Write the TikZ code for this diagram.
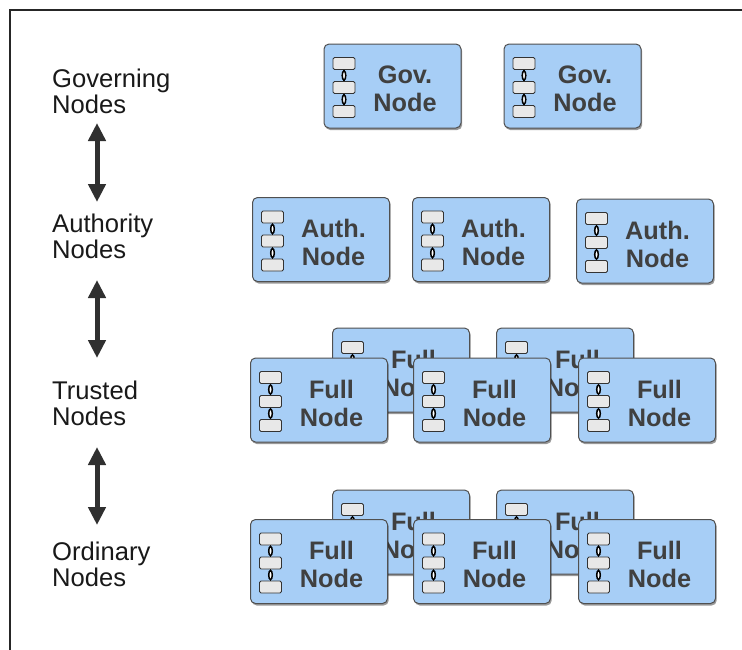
\documentclass[tikz,border=0pt]{standalone}
\usepackage{fontspec}
\setmainfont{Liberation Sans}
\usetikzlibrary{arrows.meta,shadows}
\definecolor{boxblue}{RGB}{167,206,246}
\definecolor{boxedge}{RGB}{80,80,80}
\definecolor{boxtxt}{RGB}{64,64,64}
\definecolor{rectfill}{RGB}{232,232,232}
\definecolor{arrowgray}{RGB}{48,48,48}
\tikzset{
  nodebox/.style={draw=boxedge, line width=1pt, fill=boxblue, rounded corners=5pt,
    minimum width=137pt, minimum height=84pt, inner sep=0pt,
    drop shadow={shadow xshift=1.2pt, shadow yshift=-2pt, opacity=.4, fill=black}},
  boxtext/.style={text=boxtxt, font=\fontsize{25.3}{28}\selectfont\bfseries, align=center, inner sep=0pt},
  tierlabel/.style={text=black!90, font=\fontsize{25.6}{26}\selectfont, align=left, inner sep=0pt, anchor=west},
  updown/.style={arrowgray, line width=5pt, {Triangle[width=17pt,length=18pt]}-{Triangle[width=17pt,length=18pt]}},
  ledgerrect/.style={draw=black!80, line width=0.8pt, fill=rectfill, rounded corners=1.5pt},
  linkring/.style={draw=black, line width=1.5pt, fill=white},
  ledger/.pic={
    \draw[black, line width=1.4pt] (0,-22.5) -- (0,25.5);
    \foreach \yy in {-22.5,1.5,25.5}
      \draw[ledgerrect] (-11,\yy-6) rectangle (11,\yy+6);
    \foreach \yy in {-10.5,13.5}
      \draw[linkring] (0,\yy) ellipse (1.8 and 4.6);
  }
}
\newcommand\ledgerbox[4]{%
  \node[nodebox] (#1) at (#2,#3) {};
  \pic at ([xshift=-48.5pt]#1.center) {ledger};
  \node[boxtext] (#1-t) at ([xshift=12.5pt,yshift=-3pt]#1.center) {#4\\Node};
}
\begin{document}
\begin{tikzpicture}[x=1pt,y=-1pt]
\useasboundingbox (0,0) rectangle (742,649);
% frame
\coordinate (fr-tr) at (750,10);
\coordinate (fr-tl) at (10,10);
\coordinate (fr-bl) at (10,660);
\draw[black!85, line width=1.2pt] (fr-tr) -- (fr-tl) -- (fr-bl);
% tier labels
\node[tierlabel] (lab-gov) at (52,91) {Governing\\Nodes};
\node[tierlabel] (lab-auth) at (52,236.5) {Authority\\Nodes};
\node[tierlabel] (lab-trust) at (52,403) {Trusted\\Nodes};
\node[tierlabel] (lab-ord) at (52,564.5) {Ordinary\\Nodes};
% arrows
\coordinate (a1t) at (97,123);
\coordinate (a1b) at (97,202);
\coordinate (a2t) at (97,280);
\coordinate (a2b) at (97,358);
\coordinate (a3t) at (97,447);
\coordinate (a3b) at (97,525);
\draw[updown] (a1t) -- (a1b);
\draw[updown] (a2t) -- (a2b);
\draw[updown] (a3t) -- (a3b);
% governing
\ledgerbox{gov1}{392.5}{86}{Gov.}
\ledgerbox{gov2}{572.5}{86}{Gov.}
% authority
\ledgerbox{auth1}{321}{239.5}{Auth.}
\ledgerbox{auth2}{481}{239.5}{Auth.}
\ledgerbox{auth3}{645}{241}{Auth.}
% trusted
\ledgerbox{tb1}{401}{370}{Full}
\ledgerbox{tb2}{565}{370}{Full}
\ledgerbox{tf1}{319}{400}{Full}
\ledgerbox{tf2}{482}{400}{Full}
\ledgerbox{tf3}{647}{400}{Full}
% ordinary
\ledgerbox{ob1}{401}{532}{Full}
\ledgerbox{ob2}{565}{532}{Full}
\ledgerbox{of1}{319}{561.5}{Full}
\ledgerbox{of2}{482}{561.5}{Full}
\ledgerbox{of3}{647}{561.5}{Full}
\end{tikzpicture}
\end{document}
